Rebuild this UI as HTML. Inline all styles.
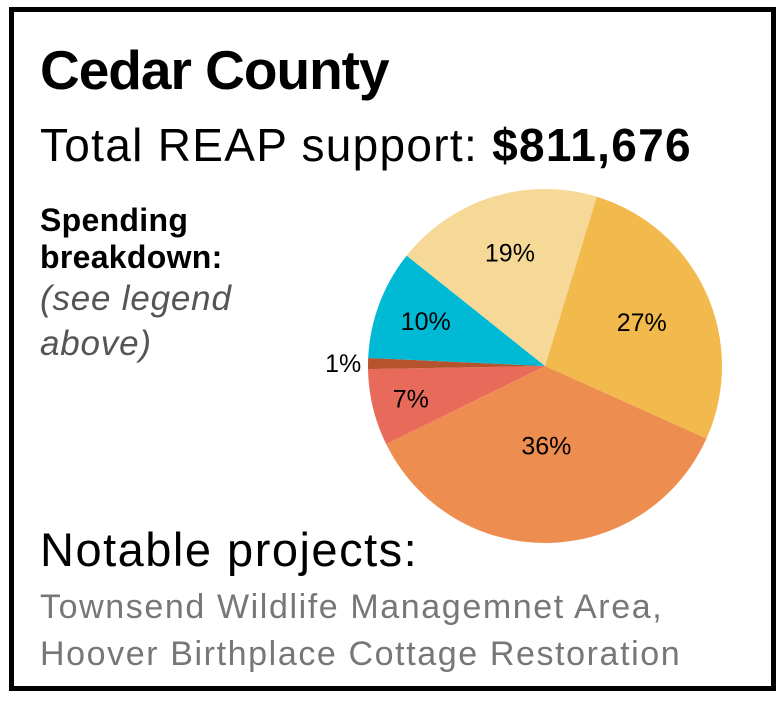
<!DOCTYPE html>
<html><head><meta charset="utf-8"><style>
body{margin:0;width:783px;height:701px;background:#fff;overflow:hidden;font-family:"Liberation Sans",sans-serif;}
.t{position:absolute;white-space:nowrap;color:#000;}
</style></head><body>
<div style="position:absolute;left:9px;top:7px;width:757px;height:674px;border:5px solid #000;"></div>
<div class="t" style="left:40px;top:38px;font-size:55px;font-weight:bold;letter-spacing:-1px;">Cedar County</div>
<div class="t" style="left:40px;top:118px;font-size:46px;letter-spacing:1.3px;">Total REAP support: <b>$811,676</b></div>
<div class="t" style="left:40px;top:202px;font-size:32px;font-weight:bold;line-height:37px;letter-spacing:0.3px;">Spending<br>breakdown:</div>
<div class="t" style="left:40px;top:276px;font-size:35px;font-style:italic;color:#555;line-height:45px;letter-spacing:0.8px;">(see legend<br>above)</div>
<svg style="position:absolute;left:0;top:0" width="783" height="701"></svg>
<div class="t" style="left:40px;top:522px;font-size:47px;letter-spacing:1.5px;">Notable projects:</div>
<div class="t" style="left:40px;top:584px;font-size:34px;color:#777;line-height:47px;letter-spacing:1.6px;">Townsend Wildlife Managemnet Area,<br>Hoover Birthplace Cottage Restoration</div>
<script>
const categories=['a','b','c','d','e','f'];
const values=[27,36,7,1,10,19];
const colors=['#F2B94C','#EE8D50','#E86A5B','#B5532F','#00B9D5','#F6D996'];
const labels=['27%','36%','7%','1%','10%','19%'];
const labelRadius=[0.6,0.45,0.78,1.14,0.72,0.67];
const svg=document.querySelector('svg');
const cx=545,cy=366,r=177,start=17;
const total=values.reduce((a,b)=>a+b,0);
let a=start;
const pt=(deg,rad)=>[cx+rad*Math.sin(deg*Math.PI/180),cy-rad*Math.cos(deg*Math.PI/180)];
values.forEach((v,i)=>{
  const sw=v/total*360,a2=a+sw;
  const [x1,y1]=pt(a,r),[x2,y2]=pt(a2,r);
  const p=document.createElementNS('http://www.w3.org/2000/svg','path');
  p.setAttribute('d',`M${cx},${cy}L${x1},${y1}A${r},${r} 0 ${sw>180?1:0} 1 ${x2},${y2}Z`);
  p.setAttribute('fill',colors[i]);
  
  
  svg.appendChild(p);
  const mid=a+sw/2;
  const [lx,ly]=pt(mid,r*labelRadius[i]);
  const t=document.createElementNS('http://www.w3.org/2000/svg','text');
  t.setAttribute('x',lx);t.setAttribute('y',ly+9);
  t.setAttribute('text-anchor','middle');
  t.setAttribute('font-size','25');
  t.setAttribute('font-family','Liberation Sans, sans-serif');
  t.textContent=labels[i];
  
  
  svg.appendChild(t);
  a=a2;
});
</script>
</body></html>
